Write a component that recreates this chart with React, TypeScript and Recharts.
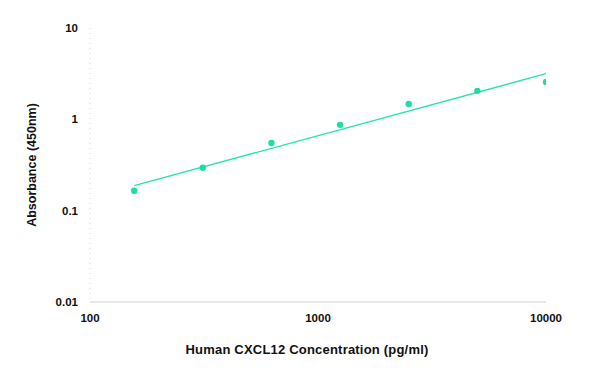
import { ComposedChart, Line, Scatter, XAxis, YAxis, ZAxis } from "recharts";

const concentrations = [156.25, 312.5, 625, 1250, 2500, 5000, 10000];
const absorbance = [0.165, 0.295, 0.55, 0.87, 1.47, 2.05, 2.57];

// fitted curve, read at its two ends
const fitX = [156.25, 10000];
const fitY = [0.188, 3.16];

const xTicks = [100, 1000, 10000];
const yTicks = [0.01, 0.1, 1, 10];

const points = concentrations.map((x, i) => ({ x, y: absorbance[i] }));
const fit = fitX.map((x, i) => ({ x, y: fitY[i] }));

const font = "'Liberation Sans', Arial, sans-serif";
const teal = "#22e4ae";

export default function App() {
  return (
    <div style={{ position: "fixed", left: 0, top: 0, background: "#fff" }}>
      <ComposedChart
        width={600}
        height={378}
        margin={{ top: 28, right: 54, bottom: 0, left: 0 }}
      >
        <XAxis
          dataKey="x"
          type="number"
          scale="log"
          domain={[100, 10000]}
          ticks={xTicks}
          allowDataOverflow
          height={76}
          tickLine={false}
          tickSize={0}
          tickMargin={12}
          axisLine={{ stroke: "#d0d0d0" }}
          tick={{ fill: "#111", fontSize: 11.5, fontWeight: 700, fontFamily: font }}
          tickFormatter={(v) => String(v)}
          label={{
            value: "Human CXCL12 Concentration (pg/ml)",
            position: "insideBottom",
            offset: 24,
            dx: -11,
            fill: "#111",
            fontSize: 13,
            fontWeight: 700,
            fontFamily: font,
            letterSpacing: 0.2,
          }}
        />
        <YAxis
          dataKey="y"
          type="number"
          scale="log"
          domain={[0.01, 10]}
          ticks={yTicks}
          allowDataOverflow
          width={90}
          tickLine={false}
          tickSize={0}
          tickMargin={12}
          axisLine={{ stroke: "#d8d8d8", strokeDasharray: "1 4" }}
          tick={{ fill: "#111", fontSize: 11.5, fontWeight: 700, fontFamily: font }}
          tickFormatter={(v) => String(v)}
          label={{
            value: "Absorbance (450nm)",
            angle: -90,
            position: "insideLeft",
            offset: 32,
            style: { textAnchor: "middle" },
            fill: "#111",
            fontSize: 12.5,
            fontWeight: 700,
            fontFamily: font,
          }}
        />
        <ZAxis range={[32, 32]} />
        <Line
          data={fit}
          dataKey="y"
          type="linear"
          stroke={teal}
          strokeWidth={1.3}
          dot={false}
          activeDot={false}
          isAnimationActive={false}
        />
        <Scatter
          data={points}
          dataKey="y"
          fill="#1fdca6"
          shape="circle"
          isAnimationActive={false}
          legendType="none"
        />
      </ComposedChart>
    </div>
  );
}
